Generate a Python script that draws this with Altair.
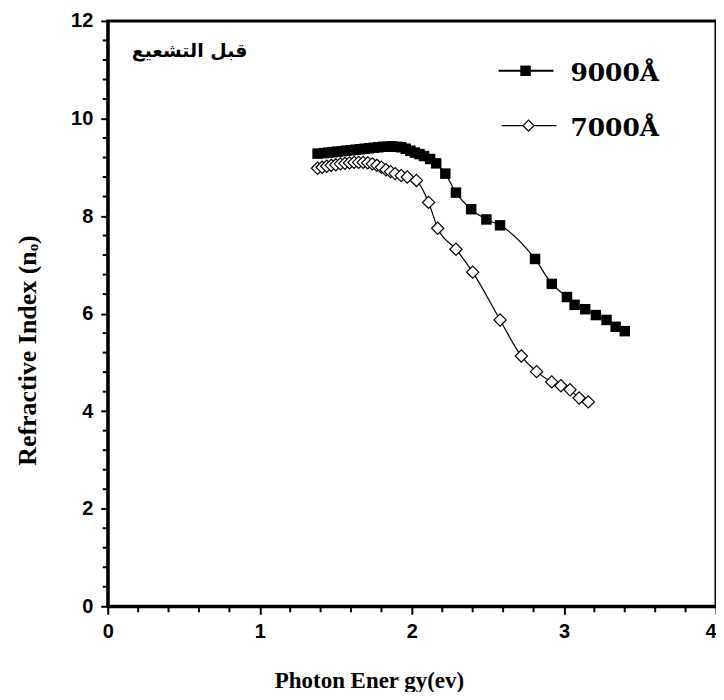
import altair as alt
import pandas as pd

# 9000 Å series (filled squares)
e_9000 = [1.38, 1.42, 1.45, 1.48, 1.51, 1.54, 1.57, 1.60, 1.63, 1.66, 1.69, 1.72, 1.75,
          1.78, 1.81, 1.84, 1.87, 1.90, 1.93, 1.96, 1.99, 2.02, 2.05, 2.08, 2.12, 2.16,
          2.22, 2.29, 2.39, 2.49, 2.58, 2.81, 2.92, 3.02, 3.07, 3.14, 3.21, 3.28, 3.34, 3.40]
n_9000 = [9.28, 9.29, 9.30, 9.31, 9.32, 9.33, 9.34, 9.35, 9.36, 9.37, 9.38, 9.39, 9.40,
          9.41, 9.42, 9.42, 9.43, 9.42, 9.41, 9.38, 9.34, 9.30, 9.27, 9.23, 9.17, 9.08,
          8.87, 8.48, 8.14, 7.93, 7.81, 7.12, 6.61, 6.34, 6.18, 6.09, 5.97, 5.87, 5.73, 5.64]

# 7000 Å series (open diamonds)
e_7000 = [1.38, 1.41, 1.44, 1.47, 1.50, 1.53, 1.56, 1.59, 1.62, 1.65, 1.68, 1.71, 1.74,
          1.77, 1.80, 1.83, 1.86, 1.89, 1.93, 1.97, 2.03, 2.11, 2.17, 2.29, 2.40, 2.58,
          2.72, 2.82, 2.92, 2.98, 3.04, 3.10, 3.16]
n_7000 = [8.98, 9.00, 9.02, 9.04, 9.05, 9.07, 9.08, 9.09, 9.10, 9.10, 9.10, 9.09, 9.07,
          9.04, 9.00, 8.95, 8.91, 8.87, 8.83, 8.80, 8.73, 8.28, 7.75, 7.32, 6.85, 5.87,
          5.13, 4.81, 4.60, 4.52, 4.44, 4.27, 4.19]

series_names = ["9000Å", "7000Å"]
annotation = "قبل التشعيع"

x_major = [0, 1, 2, 3, 4]
y_major = [0, 2, 4, 6, 8, 10, 12]
x_minor = [0.2, 0.4, 0.6, 0.8, 1.2, 1.4, 1.6, 1.8, 2.2, 2.4, 2.6, 2.8, 3.2, 3.4, 3.6, 3.8]
y_minor = [0.4, 0.8, 1.2, 1.6, 2.4, 2.8, 3.2, 3.6, 4.4, 4.8, 5.2, 5.6, 6.4, 6.8, 7.2, 7.6,
           8.4, 8.8, 9.2, 9.6, 10.4, 10.8, 11.2, 11.6]

df9 = pd.DataFrame({"energy": e_9000, "n": n_9000, "series": series_names[0]})
df7 = pd.DataFrame({"energy": e_7000, "n": n_7000, "series": series_names[1]})

xscale = alt.Scale(domain=[0, 4], nice=False, zero=False)
yscale = alt.Scale(domain=[0, 12], nice=False, zero=False)

x_axis = alt.Axis(
    values=x_major, format="d",
    title="Photon Ener gy(ev)", titleFont="Liberation Serif", titleFontSize=23,
    titleFontWeight="bold", titleColor="black", titleX=262, titleY=74,
    titleAlign="center", titleBaseline="middle", titleAnchor="start",
    labelFont="Liberation Sans", labelFontSize=20, labelFontWeight="bold",
    labelColor="black", labelPadding=7, tickSize=8, tickWidth=2, tickColor="black",
    labelAlign={"condition": {"test": "datum.value >= 4", "value": "right"}, "value": "center"},
    domainColor="black", domainWidth=3, grid=False, labelOverlap=False, labelFlush=False,
)
y_axis = alt.Axis(
    values=y_major, format="d",
    title="Refractive Index (nₒ)", titleFont="Liberation Serif", titleFontSize=26,
    titleFontWeight="bold", titleColor="black", titleX=-80, titleY=330, titleAngle=270,
    titleAlign="center", titleBaseline="middle", titleAnchor="start",
    labelFont="Liberation Sans", labelFontSize=20, labelFontWeight="bold",
    labelColor="black", labelPadding=8, tickSize=7, tickWidth=2, tickColor="black",
    domainColor="black", domainWidth=3, grid=False, labelOverlap=False, labelFlush=False,
)

X = alt.X("energy:Q", scale=xscale, axis=x_axis)
Y = alt.Y("n:Q", scale=yscale, axis=y_axis)

line9 = alt.Chart(df9).mark_line(color="black", strokeWidth=1.2, interpolate="monotone").encode(x=X, y=Y)
line7 = alt.Chart(df7).mark_line(color="black", strokeWidth=1.2, interpolate="monotone").encode(x=X, y=Y)

pts9 = alt.Chart(df9).mark_point(shape="square", filled=True, color="black", size=110, opacity=1).encode(x=X, y=Y)
pts7 = alt.Chart(df7).mark_point(shape="diamond", filled=True, fill="white", stroke="black",
                                 strokeWidth=1.2, size=150, opacity=1).encode(x=X, y=Y)

# minor ticks, placed through the scales
xm = alt.Chart(pd.DataFrame({"v": x_minor})).mark_rule(color="black", strokeWidth=2, clip=False).encode(
    x=alt.X("v:Q", scale=xscale), y=alt.value(587), y2=alt.value(593))
ym = alt.Chart(pd.DataFrame({"v": y_minor})).mark_rule(color="black", strokeWidth=2, clip=False).encode(
    y=alt.Y("v:Q", scale=yscale), x=alt.value(-5), x2=alt.value(1))

# legend (drawn by hand, positions in pixels)
leg = pd.DataFrame({"label": series_names})
leg9 = leg.iloc[[0]]
leg7 = leg.iloc[[1]]

l9_rule = alt.Chart(leg9).mark_rule(color="black", strokeWidth=2).encode(
    x=alt.value(392), x2=alt.value(447), y=alt.value(50))
l9_pt = alt.Chart(leg9).mark_point(shape="square", filled=True, color="black", size=110, opacity=1).encode(
    x=alt.value(419), y=alt.value(50))
l9_txt = alt.Chart(leg9).mark_text(align="left", baseline="middle", font="DejaVu Serif",
                                   fontSize=25, fontWeight="bold", color="black").encode(
    x=alt.value(464), y=alt.value(52), text="label:N")
l7_rule = alt.Chart(leg7).mark_rule(color="black", strokeWidth=1.2).encode(
    x=alt.value(395), x2=alt.value(450), y=alt.value(105))
l7_pt = alt.Chart(leg7).mark_point(shape="diamond", filled=True, fill="white", stroke="black",
                                   strokeWidth=1.2, size=120, opacity=1).encode(
    x=alt.value(422), y=alt.value(105))
l7_txt = alt.Chart(leg7).mark_text(align="left", baseline="middle", font="DejaVu Serif",
                                   fontSize=25, fontWeight="bold", color="black").encode(
    x=alt.value(464), y=alt.value(107), text="label:N")

ann = alt.Chart(pd.DataFrame({"t": [annotation]})).mark_text(
    align="center", baseline="middle", font="DejaVu Sans", fontSize=19, fontWeight="bold",
    color="black").encode(x=alt.value(82), y=alt.value(30), text="t:N")

chart = alt.layer(line9, line7, pts9, pts7, xm, ym, l9_rule, l9_pt, l9_txt,
                  l7_rule, l7_pt, l7_txt, ann).properties(
    width=610, height=587,
    autosize=alt.AutoSizeParams(type="none"),
    padding={"left": 100, "top": 12, "right": 0, "bottom": 85},
    background="white",
).configure_view(stroke="black", strokeWidth=3)

chart.save("out.html", embed_options={"renderer": "svg", "actions": False})
